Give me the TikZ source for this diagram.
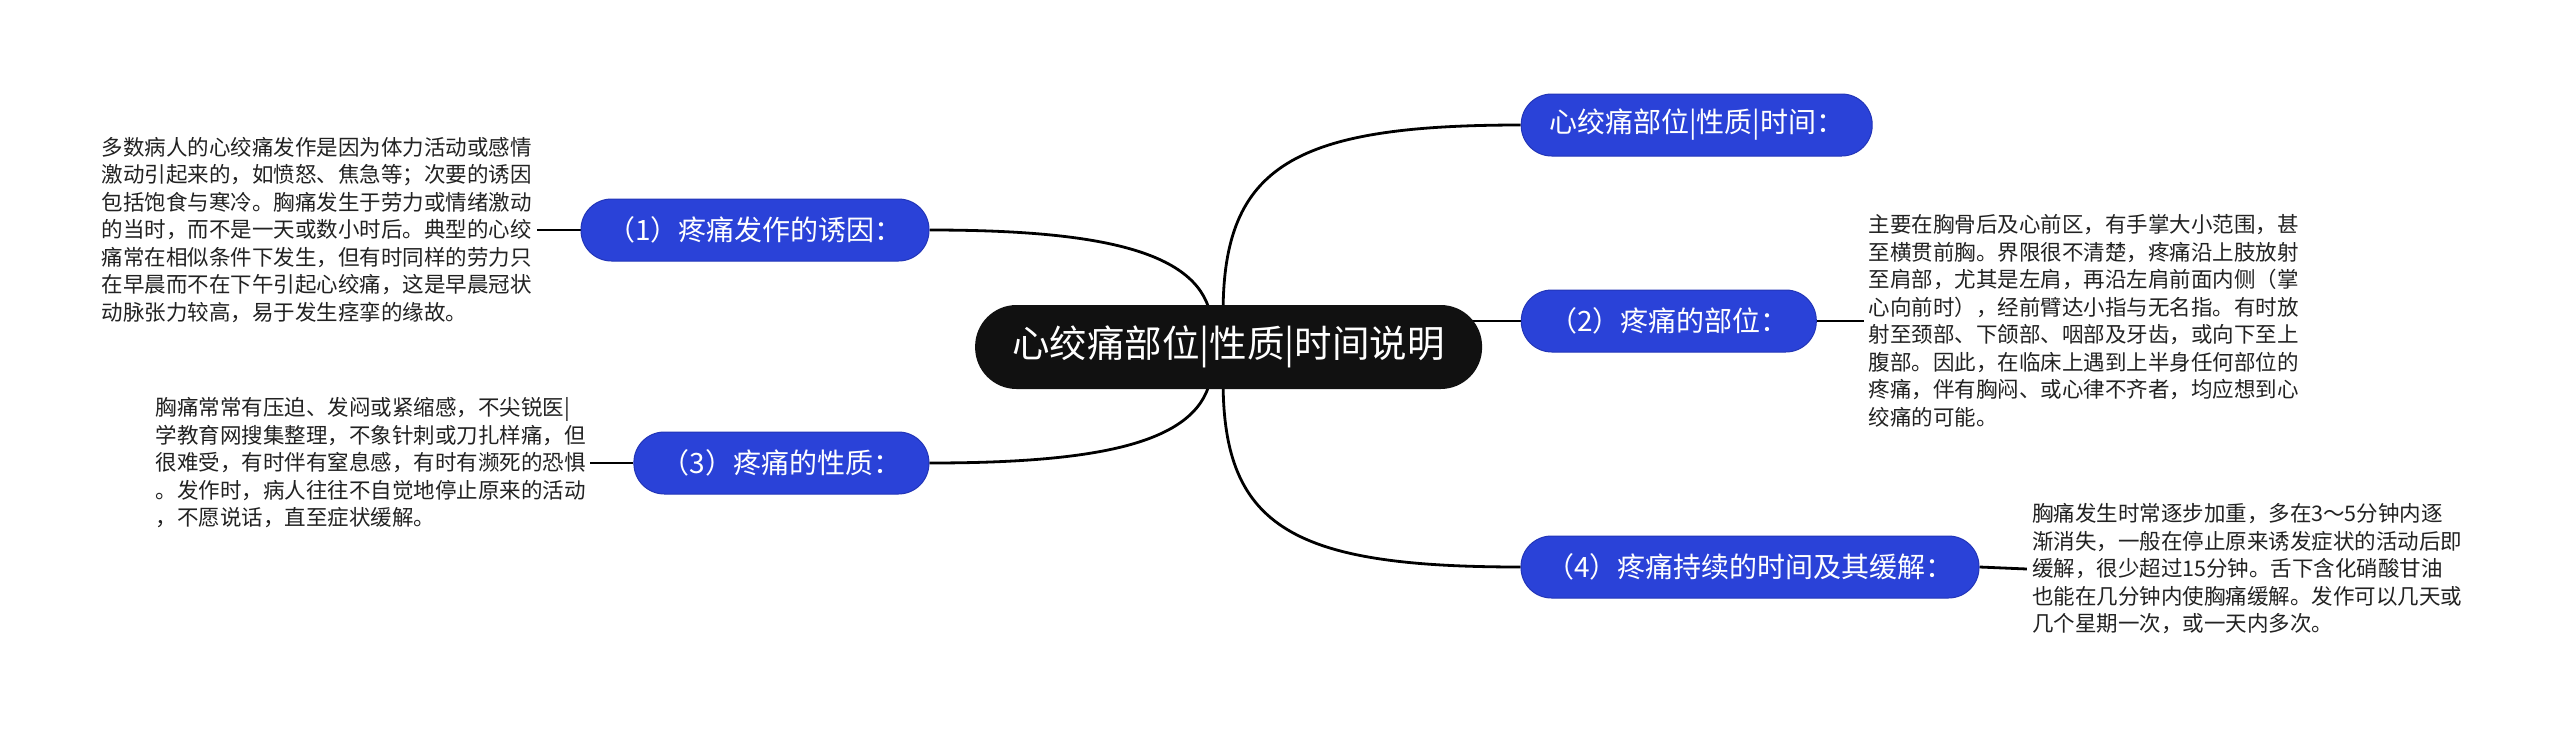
\documentclass[tikz,border=0pt]{standalone}
\usepackage{fontspec}
\setmainfont{Noto Sans CJK SC}
\usetikzlibrary{calc}
\definecolor{nodeblue}{HTML}{2A42D8}
\definecolor{nodeedge}{HTML}{2235B8}
\definecolor{rootblack}{HTML}{111111}
\definecolor{detailtext}{HTML}{222222}
\pgfdeclarelayer{paper}
\pgfdeclarelayer{links}
\pgfsetlayers{paper,links,main}
\begin{document}
\begin{tikzpicture}[x=1pt,y=-1pt,
  rootbox/.style={fill=rootblack, text=white, rounded corners=41.5pt, minimum height=84pt, font=\fontsize{37.5}{44}\selectfont, inner sep=0pt},
  branchbox/.style={fill=nodeblue, draw=nodeedge, line width=1pt, text=white, rounded corners=30.5pt, minimum height=62pt, font=\fontsize{28}{32}\selectfont, inner sep=0pt},
  detailbox/.style={align=left, font=\fontsize{21.5}{27.5}\selectfont, inner sep=0pt, text=detailtext, anchor=west},
  link/.style={draw=black, line width=2.8pt},
]
\begin{pgfonlayer}{paper}
\fill[white] (0,0) rectangle (2560,737);
\end{pgfonlayer}
\useasboundingbox (0,0) rectangle (2560,737);

\node[rootbox, minimum width=507pt] (root) at (1228.6,347) {心绞痛部位|性质|时间说明};

\node[branchbox, minimum width=351pt] (ntop) at (1696.7,125) {心绞痛部位|性质|时间：};
\node[branchbox, minimum width=295pt] (n2) at (1668.8,321) {（2）疼痛的部位：};
\node[branchbox, minimum width=458pt] (n4) at (1750,567) {（4）疼痛持续的时间及其缓解：};
\node[branchbox, minimum width=348pt] (n1) at (755,230) {（1）疼痛发作的诱因：};
\node[branchbox, minimum width=295pt] (n3) at (781.4,463) {（3）疼痛的性质：};

\node[detailbox] (t1) at (101.6,230) {多数病人的心绞痛发作是因为体力活动或感情\\激动引起来的，如愤怒、焦急等；次要的诱因\\包括饱食与寒冷。胸痛发生于劳力或情绪激动\\的当时，而不是一天或数小时后。典型的心绞\\痛常在相似条件下发生，但有时同样的劳力只\\在早晨而不在下午引起心绞痛，这是早晨冠状\\动脉张力较高，易于发生痉挛的缘故。};
\node[detailbox] (t3) at (155.4,463) {胸痛常常有压迫、发闷或紧缩感，不尖锐医|\\学教育网搜集整理，不象针刺或刀扎样痛，但\\很难受，有时伴有窒息感，有时有濒死的恐惧\\。发作时，病人往往不自觉地停止原来的活动\\，不愿说话，直至症状缓解。};
\node[detailbox] (t2) at (1868.5,321) {主要在胸骨后及心前区，有手掌大小范围，甚\\至横贯前胸。界限很不清楚，疼痛沿上肢放射\\至肩部，尤其是左肩，再沿左肩前面内侧（掌\\心向前时），经前臂达小指与无名指。有时放\\射至颈部、下颌部、咽部及牙齿，或向下至上\\腹部。因此，在临床上遇到上半身任何部位的\\疼痛，伴有胸闷、或心律不齐者，均应想到心\\绞痛的可能。};
\node[detailbox] (t4) at (2031.8,569) {胸痛发生时常逐步加重，多在3～5分钟内逐\\渐消失，一般在停止原来诱发症状的活动后即\\缓解，很少超过15分钟。舌下含化硝酸甘油\\也能在几分钟内使胸痛缓解。发作可以几天或\\几个星期一次，或一天内多次。};

\coordinate (rtop) at ($(root.north)+(-5.5,8)$);
\coordinate (rbot) at ($(root.south)+(-5.5,-8)$);
\coordinate (ltop) at ($(root.north)+(-18.5,8)$);
\coordinate (lbot) at ($(root.south)+(-18.5,-8)$);

\begin{pgfonlayer}{links}
\draw[link] (rtop) .. controls (1223,165) and (1295,125) .. (ntop.west);
\draw[link] (rbot) .. controls (1223,529) and (1295,567) .. (n4.west);
\draw[link] (ltop) .. controls (1195,250) and (1096,230) .. (n1.east);
\draw[link] (lbot) .. controls (1195,444) and (1096,463) .. (n3.east);
\draw[link] (n2.west) -- (n2.west -| root.center);
\draw[link] (n1.west) -- ([xshift=5pt]t1.east);
\draw[link] (n3.west) -- ([xshift=4pt]t3.east);
\draw[link] (n2.east) -- ([xshift=-5pt]t2.west);
\draw[link] (n4.east) -- ([xshift=-5pt]t4.west);
\end{pgfonlayer}
\end{tikzpicture}
\end{document}
